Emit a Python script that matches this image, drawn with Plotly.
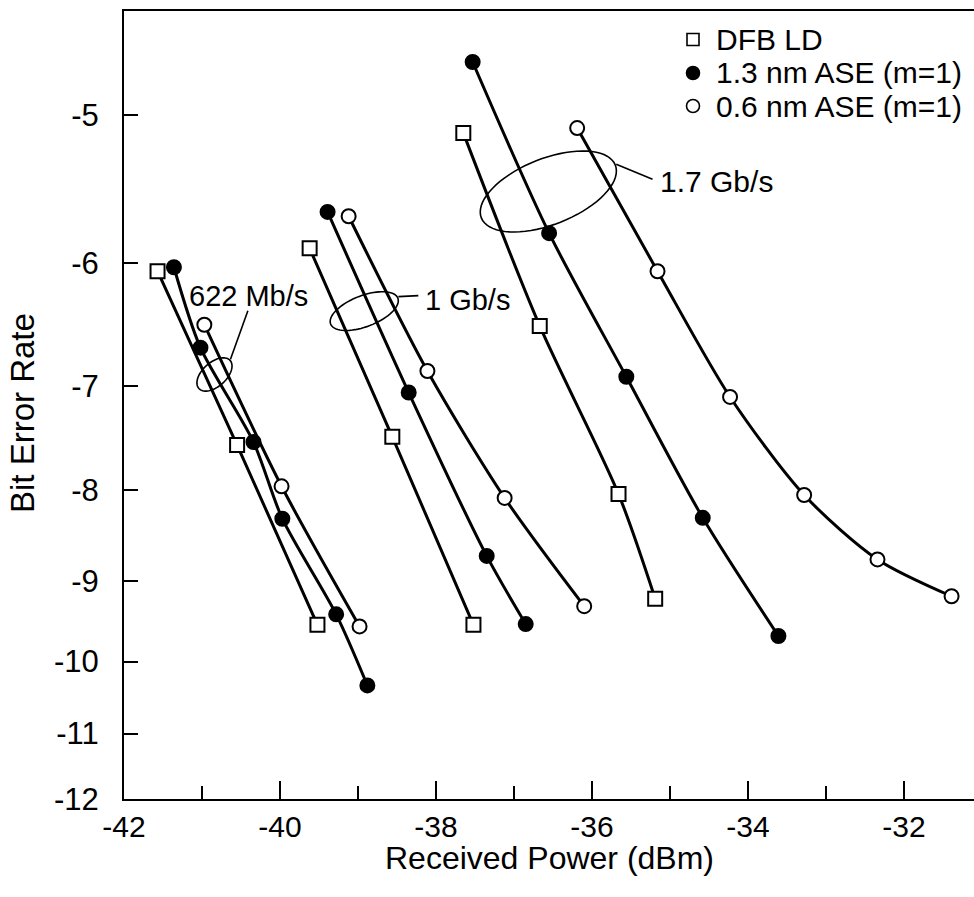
import math
import plotly.graph_objects as go

# ---------------- data (BER given as log10 exponent) ----------------
dfb_622_x = [-41.57, -40.55, -39.52]
dfb_622_ber = [-6.06, -7.55, -9.53]
ase13_622_x = [-41.36, -41.02, -40.34, -39.97, -39.28, -38.88]
ase13_622_ber = [-6.03, -6.67, -7.52, -8.30, -9.40, -10.32]
ase06_622_x = [-40.97, -39.98, -38.98]
ase06_622_ber = [-6.48, -7.96, -9.55]

dfb_1g_x = [-39.62, -38.56, -37.52]
dfb_1g_ber = [-5.89, -7.47, -9.53]
ase13_1g_x = [-39.39, -38.35, -37.35, -36.85]
ase13_1g_ber = [-5.63, -7.06, -8.71, -9.52]
ase06_1g_x = [-39.12, -38.11, -37.12, -36.10]
ase06_1g_ber = [-5.66, -6.87, -8.08, -9.30]

dfb_17_x = [-37.65, -36.67, -35.66, -35.19]
dfb_17_ber = [-5.11, -6.49, -8.04, -9.21]
ase13_17_x = [-37.53, -36.55, -35.56, -34.58, -33.61]
ase13_17_ber = [-4.69, -5.78, -6.92, -8.29, -9.67]
ase06_17_x = [-36.19, -35.16, -34.23, -33.28, -32.34, -31.39]
ase06_17_ber = [-5.08, -6.06, -7.10, -8.05, -8.75, -9.18]

y_tick_exps = [-5, -6, -7, -8, -9, -10, -11, -12]
y_tick_text = ["-5", "-6", "-7", "-8", "-9", "-10", "-11", "-12"]
x_tick_vals = [-42, -40, -38, -36, -34, -32]
x_tick_text = ["-42", "-40", "-38", "-36", "-34", "-32"]

legend_names = ["DFB LD", "1.3 nm ASE (m=1)", "0.6 nm ASE (m=1)"]
rate_labels = ["622 Mb/s", "1 Gb/s", "1.7 Gb/s"]


# ---------------- BER -> Q (the paper's log-Q ordinate) ----------------
def q_of(exp):
    ber = 10.0 ** exp
    lo, hi = 0.0, 30.0
    for _ in range(200):
        mid = 0.5 * (lo + hi)
        if 0.5 * math.erfc(mid / math.sqrt(2)) > ber:
            lo = mid
        else:
            hi = mid
    return 0.5 * (lo + hi)


def qs(exps):
    return [q_of(e) for e in exps]


FONT = "Liberation Sans, Arial, Helvetica, sans-serif"
W, H = 974, 897
ML, MR, MT, MB = 124, 0, 11, 98
PW, PH = W - ML - MR, H - MT - MB

# ranges
x_range = [-42, -42 + PW / 78.0]
lq5, lq12 = math.log10(q_of(-5)), math.log10(q_of(-12))
px5, px12 = 115.0, 799.0
y_bottom = lq12
y_top = lq12 - (px12 - MT) / (px12 - px5) * (lq12 - lq5)
y_range = [y_bottom, y_top]


def ypaper(exp):
    return (math.log10(q_of(exp)) - y_range[0]) / (y_range[1] - y_range[0])


def px2paper(px, py):
    return (px - ML) / PW, (H - MB - py) / PH


series = [
    (dfb_622_x, dfb_622_ber, "square"),
    (ase13_622_x, ase13_622_ber, "filled"),
    (ase06_622_x, ase06_622_ber, "open"),
    (dfb_1g_x, dfb_1g_ber, "square"),
    (ase13_1g_x, ase13_1g_ber, "filled"),
    (ase06_1g_x, ase06_1g_ber, "open"),
    (dfb_17_x, dfb_17_ber, "square"),
    (ase13_17_x, ase13_17_ber, "filled"),
    (ase06_17_x, ase06_17_ber, "open"),
]

fig = go.Figure()
# lines first
for xs, es, kind in series:
    fig.add_trace(go.Scatter(
        x=xs, y=qs(es), mode="lines",
        line=dict(color="black", width=3, shape="spline", smoothing=0.8),
        showlegend=False, hoverinfo="skip"))
# markers on top
mk = {
    "square": dict(symbol="square", size=14, color="white", line=dict(color="black", width=2)),
    "filled": dict(symbol="circle", size=14, color="black", line=dict(color="black", width=2)),
    "open": dict(symbol="circle", size=14, color="white", line=dict(color="black", width=2)),
}
kind_name = {"square": legend_names[0], "filled": legend_names[1], "open": legend_names[2]}
for xs, es, kind in series:
    fig.add_trace(go.Scatter(
        x=xs, y=qs(es), mode="markers", marker=mk[kind],
        name=kind_name[kind], showlegend=False))

shapes = []
annotations = []


def ellipse_path(a, b, theta_deg, n=72):
    t = math.radians(theta_deg)
    pts = []
    for i in range(n + 1):
        p = 2 * math.pi * i / n
        ex, ey = a * math.cos(p), b * math.sin(p)
        pts.append((ex * math.cos(t) - ey * math.sin(t), ex * math.sin(t) + ey * math.cos(t)))
    return "M " + " L ".join(f"{x:.2f},{y:.2f}" for x, y in pts) + " Z"


# group ellipses (center in data units, size in pixels) + leader lines
groups = [
    # cx, c_exp, a, b, angle, leader start, leader end
    (-40.84, -6.90, 21, 12, 42, (16, 15.3), (33.4, 63.7)),
    (-38.92, -6.37, 36, 15.5, 21, (34.1, 14.5), (54.1, 15.5)),
    (-36.56, -5.49, 72, 33, 21.5, (67.9, 27.3), (104.2, 12.3)),
]
for cx, ce, a, b, ang, p0, p1 in groups:
    yp = ypaper(ce)
    shapes.append(dict(type="path", xref="x", yref="paper", xsizemode="pixel", ysizemode="pixel",
                       xanchor=cx, yanchor=yp, path=ellipse_path(a, b, ang),
                       line=dict(color="black", width=1.6)))
    shapes.append(dict(type="line", xref="x", yref="paper", xsizemode="pixel", ysizemode="pixel",
                       xanchor=cx, yanchor=yp, x0=p0[0], y0=p0[1], x1=p1[0], y1=p1[1],
                       line=dict(color="black", width=1.6)))

# rate labels
label_pos = [(-40.41, -6.25, "center", 29), (-38.17, -6.28, "left", 29), (-35.16, -5.42, "left", 30)]
for (lx, le, anc, fs), txt in zip(label_pos, rate_labels):
    annotations.append(dict(x=lx, y=ypaper(le), xref="x", yref="paper", text=txt, showarrow=False,
                            xanchor=anc, yanchor="middle", font=dict(family=FONT, size=fs, color="black")))

# legend (drawn as a key in the upper right)
leg_rows = [39.5, 73.0, 106.0]
leg_kinds = ["square", "filled", "open"]
for row, kind, name in zip(leg_rows, leg_kinds, legend_names):
    mxp, myp = px2paper(693, row)
    if kind == "square":
        shapes.append(dict(type="rect", xref="paper", yref="paper", xsizemode="pixel", ysizemode="pixel",
                           xanchor=mxp, yanchor=myp, x0=-6, x1=6, y0=-6, y1=6,
                           line=dict(color="black", width=1.6), fillcolor="white"))
    else:
        shapes.append(dict(type="circle", xref="paper", yref="paper", xsizemode="pixel", ysizemode="pixel",
                           xanchor=mxp, yanchor=myp, x0=-6.5, x1=6.5, y0=-6.5, y1=6.5,
                           line=dict(color="black", width=1.6),
                           fillcolor="black" if kind == "filled" else "white"))
    txp, typ = px2paper(714, row)
    annotations.append(dict(x=txp, y=typ, xref="paper", yref="paper", text=name, showarrow=False,
                            xanchor="left", yanchor="middle", font=dict(family=FONT, size=30, color="black")))

# axis titles
tx, ty = px2paper(549, 858)
annotations.append(dict(x=tx, y=ty, xref="paper", yref="paper", text="Received Power (dBm)", showarrow=False,
                        xanchor="center", yanchor="middle", font=dict(family=FONT, size=32, color="black")))
tx, ty = px2paper(22, 413)
annotations.append(dict(x=tx, y=ty, xref="paper", yref="paper", text="Bit Error Rate", showarrow=False,
                        textangle=-90, xanchor="center", yanchor="middle",
                        font=dict(family=FONT, size=33, color="black")))

fig.update_layout(
    width=W, height=H,
    margin=dict(l=ML, r=MR, t=MT, b=MB, pad=0),
    paper_bgcolor="white", plot_bgcolor="white",
    font=dict(family=FONT, color="black"),
    showlegend=False,
    shapes=shapes, annotations=annotations,
    xaxis=dict(
        range=x_range, showgrid=False, zeroline=False,
        showline=True, linecolor="black", linewidth=2, mirror=True,
        tickmode="array", tickvals=x_tick_vals, ticktext=x_tick_text,
        ticks="inside", ticklen=18, tickwidth=2, tickcolor="black",
        minor=dict(ticks="inside", ticklen=13, tickwidth=2, tickcolor="black", dtick=1, tick0=-42),
        tickfont=dict(family=FONT, size=30, color="black"),
        ticklabelstandoff=0,
    ),
    yaxis=dict(
        type="log", range=y_range, showgrid=False, zeroline=False,
        showline=True, linecolor="black", linewidth=2,
        tickmode="array", tickvals=[q_of(e) for e in y_tick_exps], ticktext=y_tick_text,
        ticks="inside", ticklen=14, tickwidth=2, tickcolor="black",
        tickfont=dict(family=FONT, size=31, color="black"),
        ticklabelstandoff=17,
    ),
)

fig.write_html("out.html")
